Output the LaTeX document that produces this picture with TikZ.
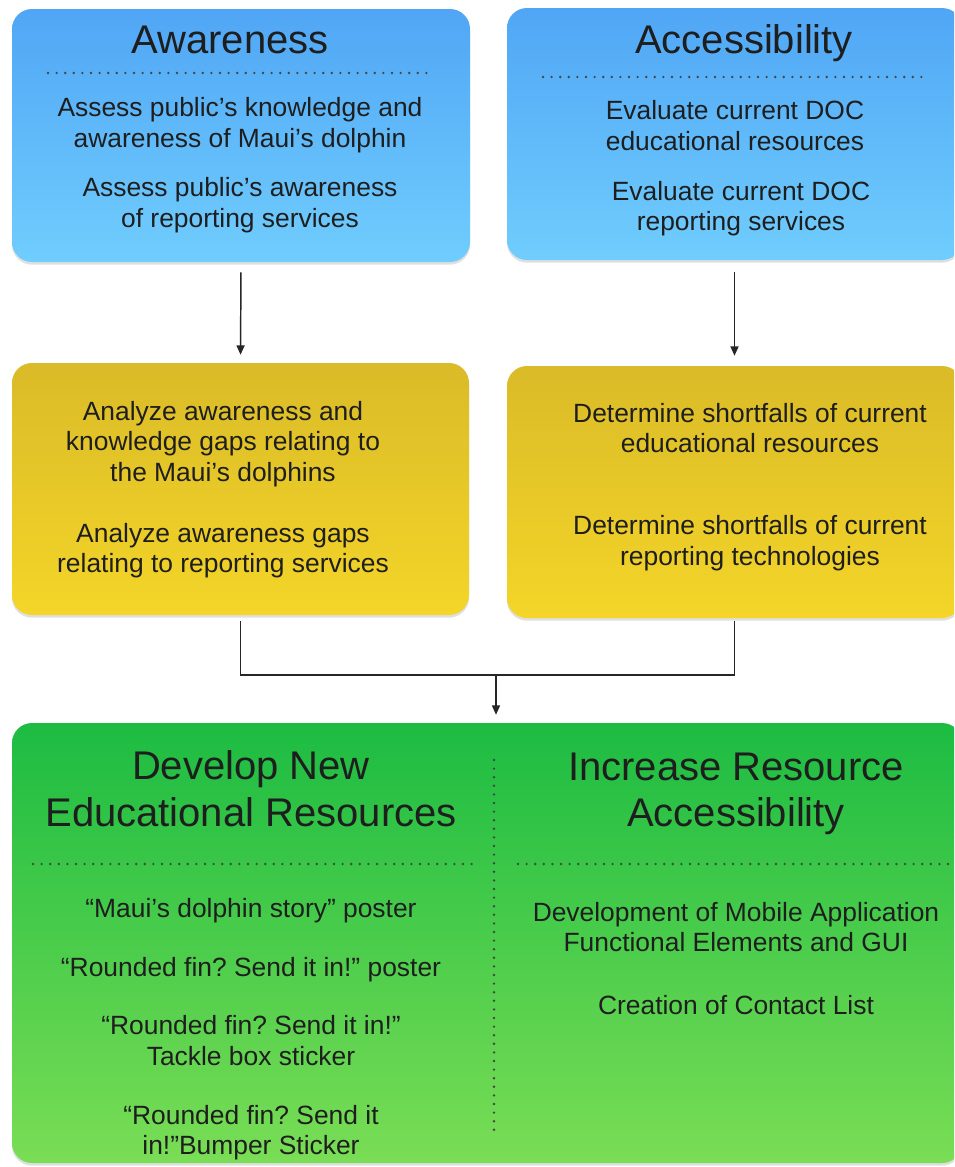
\documentclass[tikz,border=0pt]{standalone}
\usepackage{fontspec}
\setmainfont{Liberation Sans}
\usetikzlibrary{shadows,arrows.meta}
\definecolor{blueT}{RGB}{80,166,245}
\definecolor{blueB}{RGB}{112,205,253}
\definecolor{yelT}{RGB}{218,187,40}
\definecolor{yelB}{RGB}{244,213,40}
\definecolor{grnT}{RGB}{28,188,66}
\definecolor{grnB}{RGB}{122,221,85}
\definecolor{txt}{RGB}{30,30,30}
\definecolor{dotc}{RGB}{70,70,70}
\newcommand\bodysize{\fontsize{19.8}{22.8}\selectfont}
\newcommand\titlesize{\fontsize{30}{35}\selectfont}
\frenchspacing
\begin{document}
\begin{tikzpicture}[x=0.75pt,y=-0.75pt,
  box/.style={rectangle, rounded corners=15pt, inner sep=0pt,
    drop shadow={opacity=0.25, shadow xshift=0pt, shadow yshift=-2pt}},
  bluebox/.style={box, top color=blueT, bottom color=blueB},
  yelbox/.style={box, top color=yelT, bottom color=yelB},
  grnbox/.style={box, top color=grnT, bottom color=grnB},
  body/.style={font=\bodysize, align=center, text=txt, inner sep=0pt},
  title/.style={font=\titlesize, align=center, text=txt, inner sep=0pt},
  dots/.style={draw=dotc, line width=2pt, line cap=round, dash pattern=on 0pt off 6.45pt},
  conn/.style={draw=black!85, line width=1.1pt},
  arr/.style={conn, -{Triangle[length=7pt,width=6pt]}}]
\useasboundingbox (0,0) rectangle (954,1167);
\clip (0,0) rectangle (954,1167);
\fill[white] (0,0) rectangle (954,1167);

% boxes
\node[bluebox, minimum width=343.5pt, minimum height=189.75pt] (A) at (241,135.5) {};
\node[bluebox, minimum width=341.25pt, minimum height=189pt] (B) at (734.5,134) {};
\node[yelbox, minimum width=342.75pt, minimum height=189pt] (C) at (240.5,489) {};
\node[yelbox, minimum width=341.25pt, minimum height=189pt] (D) at (734.5,492) {};
\node[grnbox, minimum width=712.5pt, minimum height=330pt] (E) at (487,943) {};

% Awareness
\node[title] (At) at (230,40) {Awareness};
\draw[dots] (48,73) -- (433,73);
\node[body] (A1) at (240,125) {Assess public’s knowledge and\\awareness of Maui’s dolphin};
\node[body] (A2) at (240,205) {Assess public’s awareness\\of reporting services};

% Accessibility
\node[title] (Bt) at (744,43) {Accessibility};
\draw[dots] (543,77) -- (927,77);
\node[body] (B1) at (735,125.5) {Evaluate current DOC\\educational resources};
\node[body] (B2) at (741,208.5) {Evaluate current DOC\\reporting services};

% Analyze
\node[body] (C1) at (223,444) {Analyze awareness and\\knowledge gaps relating to\\the Maui’s dolphins};
\node[body] (C2) at (223,550.5) {Analyze awareness gaps\\relating to reporting services};

% Determine
\node[body] (D1) at (750,428) {Determine shortfalls of current\\educational resources};
\node[body] (D2) at (750,543) {Determine shortfalls of current\\reporting technologies};

% Green
\node[title] (Et1) at (251,789) {Develop New\\Educational Resources};
\node[title] (Et2) at (736,794) {Increase Resource\\Accessibility};
\draw[dots] (33,864) -- (473,864);
\draw[dots] (518,864) -- (950,864);
\draw[dots] (494,760) -- (494,1135);
\node[body] (E1) at (251,911) {“Maui’s dolphin story” poster};
\node[body] (E2) at (251,970) {“Rounded fin? Send it in!” poster};
\node[body] (E3) at (251,1040.5) {“Rounded fin? Send it in!”\\Tackle box sticker};
\node[body] (E4) at (251,1132.5) {“Rounded fin? Send it\\in!”Bumper Sticker};
\node[body] (E5) at (736,927) {Development of Mobile Application\\Functional Elements and GUI};
\node[body] (E6) at (736,1005) {Creation of Contact List};

% connectors
\draw[arr, shorten <=7.5pt, shorten >=6pt] (A.south) -- (C.north);
\draw[arr, shorten <=9pt, shorten >=7.5pt] (B.south) -- (D.north);
\coordinate (J) at (496,675);
\draw[conn, shorten <=4.5pt, shorten >=2.25pt] (C.south) |- (J) -| (D.south);
\draw[arr, shorten >=6pt] (J) -- (J |- E.north);
\end{tikzpicture}
\end{document}
